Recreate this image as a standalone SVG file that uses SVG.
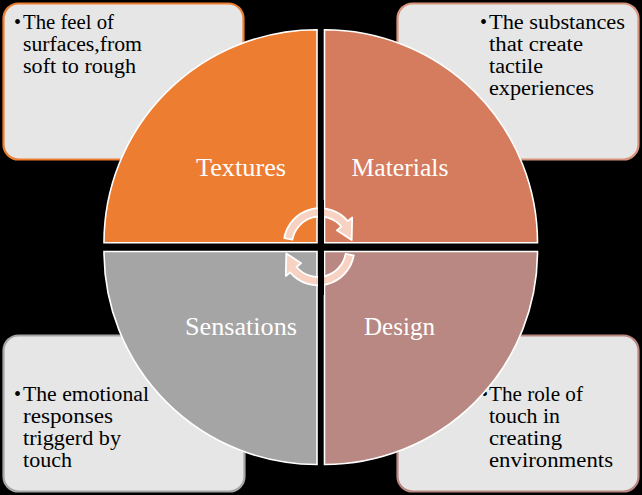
<svg xmlns="http://www.w3.org/2000/svg" width="642" height="495" viewBox="0 0 642 495">
<style>
.box{fill:#E6E6E6;stroke-width:2.2}
.bt{font-family:"Liberation Serif","Times New Roman",serif;font-size:20px;fill:#000}
.q{stroke:#FFFFFF;stroke-width:1.6}
.lbl{font-family:"Liberation Serif","Times New Roman",serif;font-size:25px;fill:#FFFFFF}
.arr{fill:#F7D2C2;stroke:#FFFFFF;stroke-width:1.8;stroke-linejoin:round}
</style>
<defs>
<path id="arrowShape" d="M284.25,238.2 A36.3,36.3 0 0 1 347.81,221.17 L352.17,217.5 L351.69,240.05 L336.85,230.36 L341.45,226.5 A28,28 0 0 0 292.43,239.64 Z"/>
</defs>
<rect x="0" y="0" width="642" height="495" fill="#000000"/>

<g id="box-textures">
<rect class="box" x="3.5" y="3.5" width="240" height="156" rx="15" stroke="#ED7D31"/>
<text class="bt" x="14" y="29">•</text>
<text class="bt" x="23" y="29" textLength="91" lengthAdjust="spacingAndGlyphs">The feel of</text>
<text class="bt" x="23" y="51" textLength="119" lengthAdjust="spacingAndGlyphs">surfaces,from</text>
<text class="bt" x="23" y="73" textLength="113" lengthAdjust="spacingAndGlyphs">soft to rough</text>
</g>

<g id="box-materials">
<rect class="box" x="397.5" y="3.5" width="241" height="156" rx="15" stroke="#D9937D"/>
<text class="bt" x="480" y="29">•</text>
<text class="bt" x="489" y="29" textLength="136" lengthAdjust="spacingAndGlyphs">The substances</text>
<text class="bt" x="489" y="51" textLength="94" lengthAdjust="spacingAndGlyphs">that create</text>
<text class="bt" x="489" y="73" textLength="54" lengthAdjust="spacingAndGlyphs">tactile</text>
<text class="bt" x="489" y="95" textLength="105" lengthAdjust="spacingAndGlyphs">experiences</text>
</g>

<g id="box-sensations">
<rect class="box" x="3.5" y="335.5" width="241" height="156" rx="15" stroke="#A5A5A5"/>
<text class="bt" x="14" y="401">•</text>
<text class="bt" x="23" y="401" textLength="126" lengthAdjust="spacingAndGlyphs">The emotional</text>
<text class="bt" x="23" y="423" textLength="90" lengthAdjust="spacingAndGlyphs">responses</text>
<text class="bt" x="23" y="445" textLength="98" lengthAdjust="spacingAndGlyphs">triggerd by</text>
<text class="bt" x="23" y="467" textLength="49" lengthAdjust="spacingAndGlyphs">touch</text>
</g>

<g id="box-design">
<rect class="box" x="397.5" y="335.5" width="241" height="156" rx="15" stroke="#B98882"/>
<text class="bt" x="481" y="401">•</text>
<text class="bt" x="489" y="401" textLength="94" lengthAdjust="spacingAndGlyphs">The role of</text>
<text class="bt" x="489" y="423" textLength="71" lengthAdjust="spacingAndGlyphs">touch in</text>
<text class="bt" x="489" y="445" textLength="73" lengthAdjust="spacingAndGlyphs">creating</text>
<text class="bt" x="489" y="467" textLength="124" lengthAdjust="spacingAndGlyphs">environments</text>
</g>

<g id="textures">
<path class="q" fill="#ED7D31" d="M317,242.7 L104,242.7 A213,213 0 0 1 317,29.7 Z"/>
<text class="lbl" x="196" y="176" textLength="90" lengthAdjust="spacingAndGlyphs">Textures</text>
</g>
<g id="materials">
<path class="q" fill="#D67C5E" d="M324.5,242.7 L324.5,29.7 A213,213 0 0 1 537.5,242.7 Z"/>
<text class="lbl" x="351.5" y="176" textLength="97" lengthAdjust="spacingAndGlyphs">Materials</text>
</g>
<g id="sensations">
<path class="q" fill="#A5A5A5" d="M317,251.5 L317,464.5 A213,213 0 0 1 104,251.5 Z"/>
<text class="lbl" x="185" y="335" textLength="112" lengthAdjust="spacingAndGlyphs">Sensations</text>
</g>
<g id="design">
<path class="q" fill="#B98882" d="M324.5,251.5 L537.5,251.5 A213,213 0 0 1 324.5,464.5 Z"/>
<text class="lbl" x="364" y="335" textLength="71" lengthAdjust="spacingAndGlyphs">Design</text>
</g>

<g id="connectors">
<use href="#arrowShape" class="arr"/>
<use href="#arrowShape" class="arr" transform="rotate(180 319 246.75)"/>
<rect x="318" y="200" width="6" height="95" fill="#000000"/>
</g>
</svg>
